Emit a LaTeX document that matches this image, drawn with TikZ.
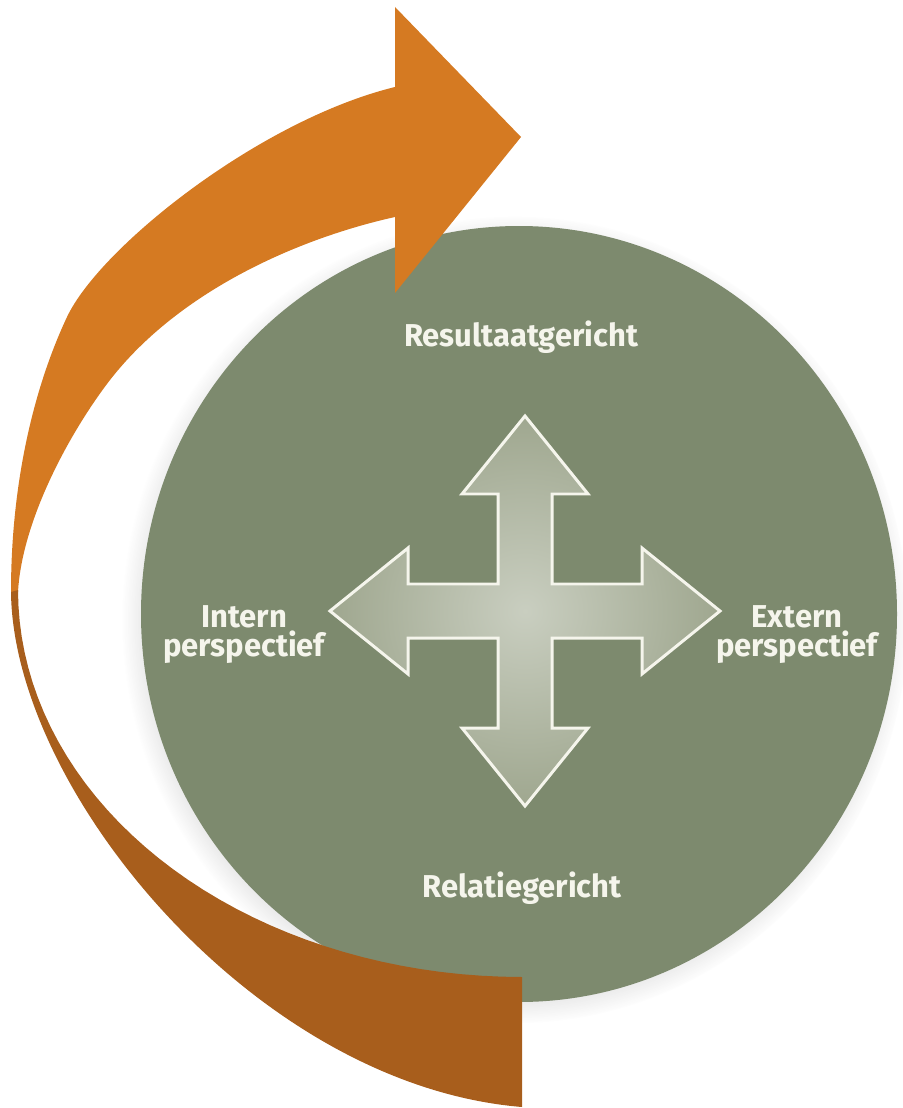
\documentclass[tikz,border=0pt]{standalone}
\usepackage{fontspec}
\usepackage{tikz}
\usetikzlibrary{shadows}
\usetikzlibrary{fadings}
\newfontfamily\labelfont{Fira Sans}[FakeStretch=0.98]
\definecolor{circlegreen}{HTML}{7D8A6E}
\definecolor{bandorange}{HTML}{D57A22}
\definecolor{bandbrown}{HTML}{A85E1C}
\definecolor{crossinner}{HTML}{C9CEC0}
\definecolor{crossouter}{HTML}{9FA78F}
\definecolor{labelwhite}{HTML}{F5F5EC}

\begin{document}
\begin{tikzpicture}[x=0.02cm, y=-0.02cm,
  lbltext/.style={text=labelwhite, font=\labelfont\bfseries\fontsize{18}{16.5}\selectfont, align=center, inner sep=0pt},
  crossarrow/.style={draw=labelwhite, line width=1.7pt, line join=miter, shading=radial, inner color=crossinner, outer color=crossouter}]
\useasboundingbox (0,0) rectangle (902,1108);

% green disc
\fill[circlegreen, circular drop shadow={shadow scale=1.04, shadow xshift=-2pt, shadow yshift=-3pt, opacity=0.35, fill=black!60}] (519,614) ellipse [x radius=378, y radius=388];

% four way arrow
\draw[crossarrow, shift={(525,611)}] (27,-27) -- (27,-117) -- (63,-117) -- (0,-195) -- (-63,-117) -- (-27,-117) -- (-27,-27)
  -- (-117,-27) -- (-117,-63) -- (-195,0) -- (-117,63) -- (-117,27) -- (-27,27)
  -- (-27,117) -- (-63,117) -- (0,195) -- (63,117) -- (27,117) -- (27,27)
  -- (117,27) -- (117,63) -- (195,0) -- (117,-63) -- (117,-27) -- cycle;

\node[lbltext, anchor=base] (result) at (521,346) {Resultaatgericht};
\node[lbltext, anchor=base] (relation) at (522,897) {Relatiegericht};
\node[lbltext, anchor=north] (intern) at (244,605) {Intern\\perspectief};
\node[lbltext, anchor=north] (extern) at (797,605) {Extern\\perspectief};

% big arrow, upper part
\fill[bandorange] (11,592) .. controls (11,480) and (35,385) .. (67,317)
  .. controls (100,247) and (260,120) .. (395,87)
  -- (395,7) -- (521,137) -- (395,293) -- (395,217)
  .. controls (300,238) and (180,290) .. (110,380)
  .. controls (70,432) and (22,520) .. (18,592) -- cycle;
% big arrow, lower part
\fill[bandbrown] (11,592) .. controls (13,790) and (255,1085) .. (522,1107)
  -- (522,977)
  -- plot[domain=90:180, samples=40, variable=\t] ({522+504*cos(\t)}, {590+387*sin(\t)}) -- cycle;
\end{tikzpicture}
\end{document}
